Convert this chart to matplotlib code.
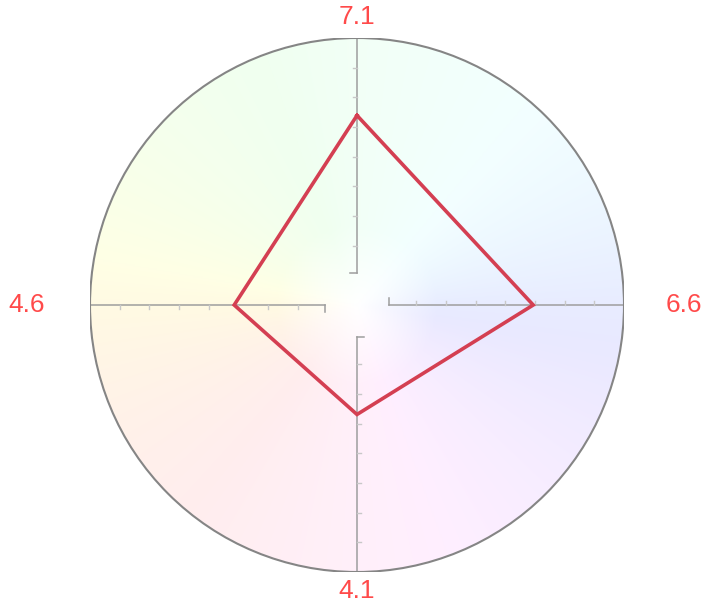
import numpy as np
import matplotlib
matplotlib.use("Agg")
import matplotlib.pyplot as plt
from matplotlib.colors import hsv_to_rgb
from matplotlib.patches import Circle

# data: one value per spoke, read clockwise from the top
labels = ["7.1", "6.6", "4.1", "4.6"]
values = [7.1, 6.6, 4.1, 4.6]
angles_deg = [90, 0, 270, 180]
r_max = 10.0
tick_pos = [k * 10 / 9 for k in range(2, 9)]

LINE = "#d43f52"
LABEL = "#ff4a4a"

fig = plt.figure(figsize=(7.01, 6.07), dpi=100)
ax = fig.add_axes([90 / 701, 35 / 607, 534 / 701, 534 / 607])
ax.set_xlim(-r_max, r_max)
ax.set_ylim(-r_max, r_max)
ax.set_aspect("equal")
ax.axis("off")

# pale colour wheel background (hue turns clockwise: yellow left, mint top, blue right, pink bottom)
n = 400
xs = np.linspace(-r_max, r_max, n)
X, Y = np.meshgrid(xs, xs)
theta = np.degrees(np.arctan2(Y, X)) % 360
hue = ((230 - theta) % 360) / 360
sat_ang = [0, 45, 90, 135, 180, 225, 270, 315, 360]
sat_val = [0.09, 0.05, 0.05, 0.07, 0.11, 0.07, 0.06, 0.07, 0.09]
rad = np.hypot(X, Y) / r_max
sat = np.interp(theta, sat_ang, sat_val) * np.clip(rad / 0.3, 0, 1)
img = hsv_to_rgb(np.dstack([hue, sat, np.ones_like(hue)]))
im = ax.imshow(img, extent=[-r_max, r_max, -r_max, r_max], origin="lower",
               interpolation="bilinear", zorder=0)
clip = Circle((0, 0), r_max, transform=ax.transData)
im.set_clip_path(clip)
ax.add_patch(Circle((0, 0), r_max, fill=False, edgecolor="#858585", linewidth=1.5, zorder=3))

# spokes with ticks on the counter-clockwise side
r0 = 1.2
for a in angles_deg:
    t = np.radians(a)
    d = np.array([np.cos(t), np.sin(t)])
    p = np.array([-d[1], d[0]])
    ax.plot([r0 * d[0], r_max * d[0]], [r0 * d[1], r_max * d[1]],
            color="#9e9e9e", linewidth=1.1, zorder=1)
    cap = r0 * d + 0.28 * p
    ax.plot([r0 * d[0], cap[0]], [r0 * d[1], cap[1]], color="#9e9e9e", linewidth=1.1, zorder=1)
    for tp in tick_pos:
        q = tp * d + 0.14 * p
        ax.plot([tp * d[0], q[0]], [tp * d[1], q[1]], color="#c8c8c8", linewidth=1.0, zorder=1)

# value polygon
ang = np.radians(angles_deg + angles_deg[:1])
vals = np.array(values + values[:1])
ax.plot(vals * np.cos(ang), vals * np.sin(ang), color=LINE, linewidth=2.6,
        solid_joinstyle="miter", zorder=4)

# value labels outside the circle
label_font = dict(color=LABEL, fontsize=19, family="Liberation Sans", clip_on=False)
ax.text(0, 10.8, labels[0], ha="center", va="center", **label_font)
ax.text(11.55, 0, labels[1], ha="left", va="center", **label_font)
ax.text(0, -10.7, labels[2], ha="center", va="center", **label_font)
ax.text(-11.7, 0, labels[3], ha="right", va="center", **label_font)

fig.savefig("out.png", dpi=100)
